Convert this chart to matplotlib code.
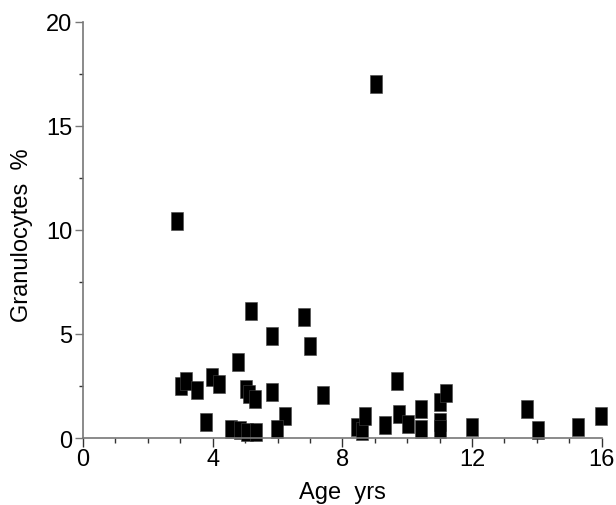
import matplotlib
matplotlib.use("Agg")
import matplotlib.pyplot as plt
from matplotlib.ticker import MultipleLocator

plt.rcParams['font.family'] = ['Liberation Sans', 'DejaVu Sans']

# age (years) and granulocyte percentage
age = [9.03, 2.90, 5.17, 6.81, 5.83, 7.01, 4.78, 3.01, 3.19, 3.53,
       3.97, 4.19, 5.02, 5.12, 5.31, 5.83, 3.80, 6.22, 5.99, 4.57,
       4.84, 5.07, 5.33, 7.40, 8.46, 8.60, 8.71, 9.32, 9.69, 9.76,
       10.02, 10.43, 10.43, 11.01, 11.21, 11.02, 11.02, 11.99, 13.70, 14.03,
       15.28, 15.97]
granulocytes = [17.0, 10.43, 6.12, 5.80, 4.92, 4.41, 3.64, 2.51, 2.75, 2.31,
                2.95, 2.60, 2.36, 2.12, 1.88, 2.20, 0.78, 1.07, 0.43, 0.43,
                0.40, 0.27, 0.30, 2.08, 0.54, 0.35, 1.04, 0.64, 2.74, 1.15,
                0.66, 1.39, 0.43, 1.75, 2.16, 0.78, 0.43, 0.51, 1.39, 0.40,
                0.54, 1.04]

x_ticks = [0, 4, 8, 12, 16]
y_ticks = [0, 5, 10, 15, 20]

# tall rectangle marker
rect = [(-0.36, -0.5), (0.36, -0.5), (0.36, 0.5), (-0.36, 0.5), (-0.36, -0.5)]

fig = plt.figure(figsize=(6.16, 5.06), dpi=100)
ax = fig.add_axes([0.1347, 0.1324, 0.8421, 0.8227])

ax.plot(age, granulocytes, ls='none', marker=rect, ms=12.6,
        mfc='black', mec='#444444', mew=0.4, clip_on=False)

ax.set_xlim(0, 16)
ax.set_ylim(0, 20)
ax.set_xticks(x_ticks)
ax.set_yticks(y_ticks)
ax.xaxis.set_minor_locator(MultipleLocator(1))
ax.yaxis.set_minor_locator(MultipleLocator(2.5))

for side in ['top', 'right']:
    ax.spines[side].set_visible(False)
for side in ['left', 'bottom']:
    ax.spines[side].set_color('#777777')
    ax.spines[side].set_linewidth(1.2)

ax.tick_params(axis='x', which='major', direction='out', length=6.5, width=1,
               color='#333333', labelsize=17, pad=1)
ax.tick_params(axis='x', which='minor', direction='out', length=3.6, width=1,
               color='#333333')
ax.tick_params(axis='y', which='major', direction='out', length=5.5, width=1,
               color='#777777', labelsize=17, pad=2)
ax.tick_params(axis='y', which='minor', direction='out', length=3, width=1,
               color='#333333')

ax.set_xlabel('Age  yrs', fontsize=17, va='top')
ax.xaxis.set_label_coords(0.5, -0.103)
ax.set_ylabel('Granulocytes  %', fontsize=17, va='center')
ax.yaxis.set_label_coords(-0.118, 0.49)

fig.savefig('out.png', dpi=100)
